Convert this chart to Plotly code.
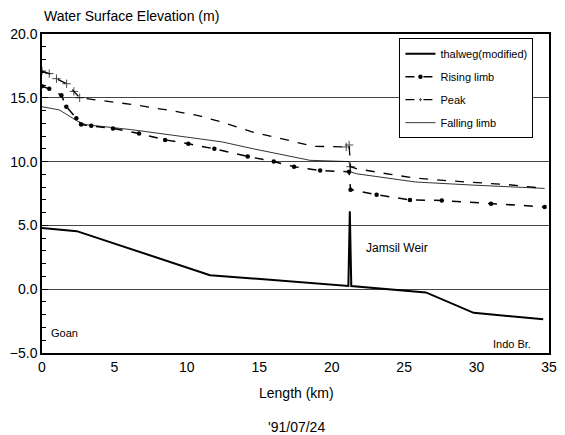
import plotly.graph_objects as go

# ---- data (km, m) ----
thalweg_x = [0, 2.4, 11.6, 21.15, 21.25, 21.35, 26.5, 29.8, 34.6]
thalweg_y = [4.8, 4.55, 1.1, 0.25, 6.1, 0.25, -0.25, -1.85, -2.35]

rising_x = [0, 0.5, 1.34, 1.68, 2.37, 2.7, 3.4, 4.9, 6.7, 8.5, 10.1, 11.9, 14.2, 16.0,
            17.4, 19.2, 21.2, 21.3, 23.1, 25.4, 27.6, 31.0, 34.7]
rising_y = [15.9, 15.7, 15.2, 14.3, 13.4, 12.9, 12.8, 12.6, 12.2, 11.7, 11.4, 11.0, 10.4, 10.0,
            9.6, 9.3, 9.2, 7.8, 7.4, 7.0, 6.95, 6.7, 6.45]

peak_x = [0, 0.5, 1.0, 1.7, 2.2, 2.6, 4.0, 6.7, 9.4, 10.8, 12.4, 14.6, 16.9, 18.7, 21.0,
          21.2, 21.3, 21.7, 23.5, 25.8, 28.0, 30.0, 32.1, 34.7]
peak_y = [17.1, 16.9, 16.5, 16.1, 15.5, 15.0, 14.8, 14.4, 13.9, 13.6, 13.1, 12.3, 11.7, 11.2, 11.15,
          11.3, 9.6, 9.45, 9.1, 8.7, 8.5, 8.35, 8.2, 7.9]

falling_x = [0, 1.2, 2.4, 3.0, 6.2, 10.1, 12.4, 14.6, 16.9, 18.5, 21.2, 21.3, 21.7, 25.8, 29.9, 34.7]
falling_y = [14.3, 14.05, 13.2, 12.9, 12.5, 11.9, 11.55, 11.0, 10.5, 10.1, 10.0, 9.2, 9.05, 8.4, 8.15, 7.9]

series_names = ["thalweg(modified)", "Rising limb", "Peak", "Falling limb"]
x_ticks = [0, 5, 10, 15, 20, 25, 30, 35]
y_ticks = [-5, 0, 5, 10, 15, 20]

FONT = "Liberation Sans, Arial, sans-serif"

# '+' marks on the peak profile appear mainly near the upstream end and at the weir
peak_marker_sizes = [6 if (x < 3 or 21 <= x <= 21.4) else 0 for x in peak_x]

fig = go.Figure()
fig.add_trace(go.Scatter(x=thalweg_x, y=thalweg_y, name=series_names[0], mode="lines",
                         line=dict(color="black", width=2), legendgroup="a"))
fig.add_trace(go.Scatter(x=rising_x, y=rising_y, name=series_names[1], mode="lines+markers",
                         line=dict(color="black", width=1.5, dash="dash"),
                         marker=dict(symbol="circle", size=4.5, color="black"), legendgroup="b"))
fig.add_trace(go.Scatter(x=peak_x, y=peak_y, name=series_names[2], mode="lines+markers",
                         line=dict(color="black", width=1.3, dash="dash"),
                         marker=dict(symbol="cross-thin", size=peak_marker_sizes,
                                     line=dict(color="black", width=1)),
                         legendgroup="c"))
fig.add_trace(go.Scatter(x=falling_x, y=falling_y, name=series_names[3], mode="lines",
                         line=dict(color="black", width=0.8), legendgroup="d"))

fig.update_layout(
    width=565, height=435,
    margin=dict(l=42, r=8, t=34, b=82),
    paper_bgcolor="white", plot_bgcolor="white",
    font=dict(family=FONT, color="black", size=14),
    legend=dict(x=0.705, y=0.987, xanchor="left", yanchor="top",
                bgcolor="white", bordercolor="black", borderwidth=1,
                font=dict(size=11, family=FONT), tracegroupgap=4, itemwidth=30),
    showlegend=True,
)
fig.update_xaxes(range=[0, 35], tickvals=x_ticks, ticks="", showgrid=False, zeroline=False,
                 showline=True, linecolor="black", linewidth=1.5, mirror=True,
                 tickfont=dict(size=14))
fig.update_yaxes(range=[-5, 20], tickvals=y_ticks, tickformat=".1f", ticks="inside", ticklen=6,
                 tickcolor="black", minor=dict(dtick=1, ticks="inside", ticklen=4, tickcolor="black"),
                 showgrid=True, gridcolor="#444", gridwidth=1, zeroline=False,
                 showline=True, linecolor="black", linewidth=1.5, mirror=True,
                 tickfont=dict(size=14))

ann = [
    dict(text="Water Surface Elevation (m)", xref="paper", yref="paper", x=0, y=1.056,
         xanchor="left", yanchor="middle", font=dict(size=14)),
    dict(text="Length (km)", xref="paper", yref="paper", x=0.501, y=-0.125,
         xanchor="center", yanchor="middle", font=dict(size=14)),
    dict(text="'91/07/24", xref="paper", yref="paper", x=0.501, y=-0.232,
         xanchor="center", yanchor="middle", font=dict(size=14)),
    dict(text="Jamsil Weir", x=22.2, y=3.25, xanchor="left", yanchor="middle", font=dict(size=12)),
    dict(text="Goan", x=0.5, y=-3.43, xanchor="left", yanchor="middle", font=dict(size=11)),
    dict(text="Indo Br.", x=33.9, y=-4.3, xanchor="right", yanchor="middle", font=dict(size=11)),
]
for a in ann:
    a["showarrow"] = False
    fig.add_annotation(**a)

fig.write_html("out.html")
